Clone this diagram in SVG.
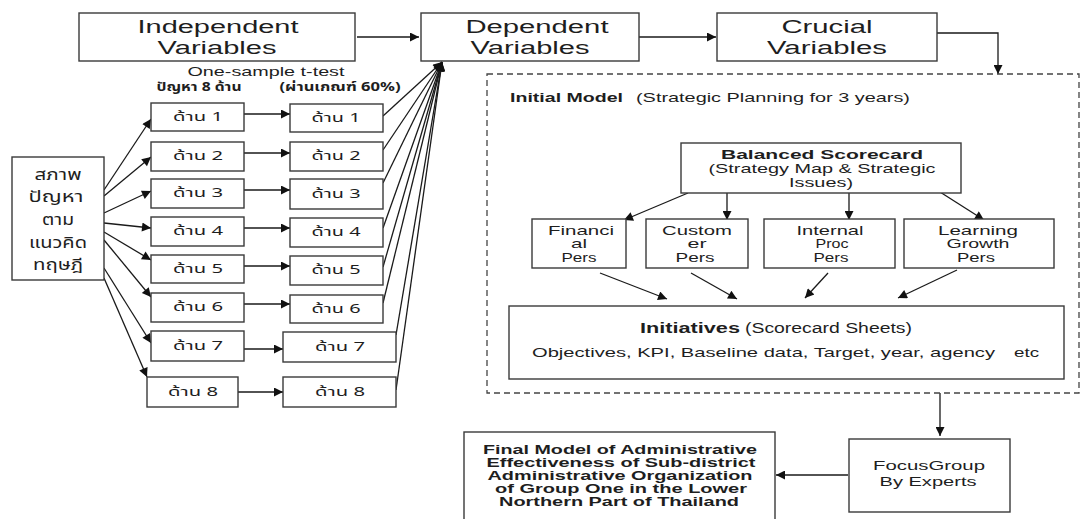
<svg xmlns="http://www.w3.org/2000/svg" width="1081" height="519" viewBox="0 0 1081 519">
<style>
.box{fill:#fff;stroke:#3a3a3a;stroke-width:1.4}
.dash{fill:none;stroke:#444;stroke-width:1.3;stroke-dasharray:6,4}
.arr{fill:none;stroke:#1a1a1a;stroke-width:1.3;marker-end:url(#ah)}
text{font-family:"Liberation Sans",Arial,sans-serif;fill:#1e1e1e;text-anchor:middle}
.hd{font-size:18px}
.sm{font-size:13px}
.b{font-weight:bold}
.th{font-family:"Noto Sans Thai","Noto Sans","DejaVu Sans",sans-serif;font-size:12px}
.thl{font-family:"Noto Sans Thai","Noto Sans","DejaVu Sans",sans-serif;font-size:15px}
.st{text-anchor:start}
</style>
<defs>
<marker id="ah" viewBox="0 0 10 10" refX="10" refY="5" markerWidth="12" markerHeight="9" markerUnits="userSpaceOnUse" orient="auto">
<path d="M0,0 L10,5 L0,10 z" fill="#111"/>
</marker>
</defs>

<g id="connectors">
<line class="arr" x1="357" y1="37" x2="419" y2="37"/>
<line class="arr" x1="639" y1="37" x2="716" y2="37"/>
<path class="arr" d="M937,33 H998 V74"/>
<line class="arr" x1="104" y1="190" x2="151" y2="119"/>
<line class="arr" x1="104" y1="196" x2="151" y2="157"/>
<line class="arr" x1="104" y1="213" x2="151" y2="191"/>
<line class="arr" x1="104" y1="223" x2="151" y2="228"/>
<line class="arr" x1="104" y1="232" x2="151" y2="260"/>
<line class="arr" x1="104" y1="240" x2="151" y2="297"/>
<line class="arr" x1="104" y1="268" x2="151" y2="343"/>
<line class="arr" x1="104" y1="278" x2="147" y2="377"/>
<line class="arr" x1="244" y1="114" x2="290" y2="114"/>
<line class="arr" x1="244" y1="153" x2="290" y2="153"/>
<line class="arr" x1="244" y1="190" x2="290" y2="190"/>
<line class="arr" x1="244" y1="228" x2="290" y2="228"/>
<line class="arr" x1="244" y1="266" x2="290" y2="266"/>
<line class="arr" x1="244" y1="304" x2="290" y2="304"/>
<line class="arr" x1="244" y1="349" x2="283" y2="349"/>
<line class="arr" x1="238" y1="392" x2="283" y2="392"/>
<line class="arr" x1="383" y1="116" x2="442" y2="62"/>
<line class="arr" x1="383" y1="150" x2="442" y2="62"/>
<line class="arr" x1="383" y1="183" x2="442" y2="62"/>
<line class="arr" x1="383" y1="228" x2="442" y2="62"/>
<line class="arr" x1="383" y1="267" x2="442" y2="62"/>
<line class="arr" x1="383" y1="303" x2="442" y2="62"/>
<line class="arr" x1="396" y1="335" x2="442" y2="62"/>
<line class="arr" x1="396" y1="390" x2="442" y2="62"/>
<line class="arr" x1="688" y1="193" x2="624" y2="220"/>
<line class="arr" x1="727" y1="193" x2="727" y2="220"/>
<line class="arr" x1="849" y1="193" x2="849" y2="220"/>
<line class="arr" x1="940" y1="192" x2="984" y2="220"/>
<line class="arr" x1="600" y1="273" x2="667" y2="299"/>
<line class="arr" x1="691" y1="273" x2="737" y2="299"/>
<line class="arr" x1="828" y1="273" x2="805" y2="298"/>
<line class="arr" x1="957" y1="270" x2="898" y2="298"/>
<line class="arr" x1="940" y1="393" x2="940" y2="436"/>
<line class="arr" x1="848" y1="475" x2="776" y2="475"/>
</g>

<g id="independent">
<rect class="box" x="79" y="13" width="276" height="48"/>
<text class="hd" x="218" y="33" textLength="161" lengthAdjust="spacingAndGlyphs">Independent</text>
<text class="hd" x="217" y="54" textLength="119" lengthAdjust="spacingAndGlyphs">Variables</text>
</g>
<g id="dependent">
<rect class="box" x="421" y="13" width="218" height="48"/>
<text class="hd" x="537" y="33" textLength="143" lengthAdjust="spacingAndGlyphs">Dependent</text>
<text class="hd" x="530" y="54" textLength="119" lengthAdjust="spacingAndGlyphs">Variables</text>
</g>
<g id="crucial">
<rect class="box" x="717" y="13" width="220" height="48"/>
<text class="hd" x="827" y="33" textLength="91" lengthAdjust="spacingAndGlyphs">Crucial</text>
<text class="hd" x="827" y="54" textLength="120" lengthAdjust="spacingAndGlyphs">Variables</text>
</g>

<g id="labels-ttest">
<text class="sm" x="266" y="76" textLength="157" lengthAdjust="spacingAndGlyphs">One-sample t-test</text>
<text class="th b" x="199" y="91" textLength="85" lengthAdjust="spacingAndGlyphs">ปัญหา 8 ด้าน</text>
<text class="th b" x="340" y="91" textLength="121" lengthAdjust="spacingAndGlyphs">(ผ่านเกณฑ์ 60%)</text>
</g>

<g id="condition">
<rect class="box" x="12" y="157" width="92" height="123"/>
<text class="thl" x="58" y="180" textLength="47" lengthAdjust="spacingAndGlyphs">สภาพ</text>
<text class="thl" x="56" y="202" textLength="55" lengthAdjust="spacingAndGlyphs">ปัญหา</text>
<text class="thl" x="58" y="225" textLength="32" lengthAdjust="spacingAndGlyphs">ตาม</text>
<text class="thl" x="58" y="248" textLength="58" lengthAdjust="spacingAndGlyphs">แนวคิด</text>
<text class="thl" x="58" y="270" textLength="50" lengthAdjust="spacingAndGlyphs">ทฤษฎี</text>
</g>

<g id="c1-1"><rect class="box" x="151" y="103" width="93" height="28"/><text class="th" x="198" y="121" textLength="50" lengthAdjust="spacingAndGlyphs">ด้าน 1</text></g>
<g id="c1-2"><rect class="box" x="151" y="142" width="93" height="29"/><text class="th" x="198" y="160" textLength="50" lengthAdjust="spacingAndGlyphs">ด้าน 2</text></g>
<g id="c1-3"><rect class="box" x="151" y="179" width="93" height="29"/><text class="th" x="198" y="197" textLength="50" lengthAdjust="spacingAndGlyphs">ด้าน 3</text></g>
<g id="c1-4"><rect class="box" x="151" y="217" width="93" height="29"/><text class="th" x="198" y="235" textLength="50" lengthAdjust="spacingAndGlyphs">ด้าน 4</text></g>
<g id="c1-5"><rect class="box" x="151" y="255" width="93" height="28"/><text class="th" x="198" y="273" textLength="50" lengthAdjust="spacingAndGlyphs">ด้าน 5</text></g>
<g id="c1-6"><rect class="box" x="151" y="293" width="93" height="29"/><text class="th" x="198" y="311" textLength="50" lengthAdjust="spacingAndGlyphs">ด้าน 6</text></g>
<g id="c1-7"><rect class="box" x="151" y="331" width="93" height="30"/><text class="th" x="198" y="350" textLength="50" lengthAdjust="spacingAndGlyphs">ด้าน 7</text></g>
<g id="c1-8"><rect class="box" x="147" y="377" width="91" height="30"/><text class="th" x="193" y="396" textLength="50" lengthAdjust="spacingAndGlyphs">ด้าน 8</text></g>

<g id="c2-1"><rect class="box" x="290" y="104" width="93" height="28"/><text class="th" x="336" y="122" textLength="49" lengthAdjust="spacingAndGlyphs">ด้าน 1</text></g>
<g id="c2-2"><rect class="box" x="290" y="142" width="93" height="29"/><text class="th" x="336" y="160" textLength="49" lengthAdjust="spacingAndGlyphs">ด้าน 2</text></g>
<g id="c2-3"><rect class="box" x="290" y="179" width="93" height="30"/><text class="th" x="336" y="198" textLength="49" lengthAdjust="spacingAndGlyphs">ด้าน 3</text></g>
<g id="c2-4"><rect class="box" x="290" y="218" width="93" height="29"/><text class="th" x="336" y="236" textLength="49" lengthAdjust="spacingAndGlyphs">ด้าน 4</text></g>
<g id="c2-5"><rect class="box" x="290" y="256" width="93" height="29"/><text class="th" x="336" y="274" textLength="49" lengthAdjust="spacingAndGlyphs">ด้าน 5</text></g>
<g id="c2-6"><rect class="box" x="290" y="295" width="93" height="28"/><text class="th" x="336" y="313" textLength="49" lengthAdjust="spacingAndGlyphs">ด้าน 6</text></g>
<g id="c2-7"><rect class="box" x="283" y="332" width="113" height="30"/><text class="th" x="340" y="351" textLength="50" lengthAdjust="spacingAndGlyphs">ด้าน 7</text></g>
<g id="c2-8"><rect class="box" x="283" y="377" width="113" height="30"/><text class="th" x="340" y="396" textLength="50" lengthAdjust="spacingAndGlyphs">ด้าน 8</text></g>

<g id="initial-model">
<rect class="dash" x="487" y="74" width="592" height="319"/>
<text class="sm b st" x="510" y="102" textLength="113" lengthAdjust="spacingAndGlyphs">Initial Model</text>
<text class="sm st" x="636" y="102" textLength="274" lengthAdjust="spacingAndGlyphs">(Strategic Planning for 3 years)</text>
</g>

<g id="bsc">
<rect class="box" x="681" y="143" width="280" height="50"/>
<text class="sm b" x="822" y="159" textLength="202" lengthAdjust="spacingAndGlyphs">Balanced Scorecard</text>
<text class="sm" x="822" y="173" textLength="227" lengthAdjust="spacingAndGlyphs">(Strategy Map &amp; Strategic</text>
<text class="sm" x="821" y="187" textLength="64" lengthAdjust="spacingAndGlyphs">Issues)</text>
</g>

<g id="financial">
<rect class="box" x="532" y="219" width="94" height="49"/>
<text class="sm" x="581" y="235" textLength="66" lengthAdjust="spacingAndGlyphs">Financi</text>
<text class="sm" x="579" y="248" textLength="16" lengthAdjust="spacingAndGlyphs">al</text>
<text class="sm" x="579" y="262" textLength="35" lengthAdjust="spacingAndGlyphs">Pers</text>
</g>
<g id="customer">
<rect class="box" x="646" y="219" width="102" height="49"/>
<text class="sm" x="697" y="235" textLength="70" lengthAdjust="spacingAndGlyphs">Custom</text>
<text class="sm" x="697" y="248" textLength="19" lengthAdjust="spacingAndGlyphs">er</text>
<text class="sm" x="695" y="262" textLength="39" lengthAdjust="spacingAndGlyphs">Pers</text>
</g>
<g id="internal">
<rect class="box" x="764" y="219" width="131" height="49"/>
<text class="sm" x="830" y="235" textLength="67" lengthAdjust="spacingAndGlyphs">Internal</text>
<text class="sm" x="832" y="248" textLength="33" lengthAdjust="spacingAndGlyphs">Proc</text>
<text class="sm" x="831" y="262" textLength="35" lengthAdjust="spacingAndGlyphs">Pers</text>
</g>
<g id="learning">
<rect class="box" x="904" y="219" width="150" height="49"/>
<text class="sm" x="978" y="235" textLength="80" lengthAdjust="spacingAndGlyphs">Learning</text>
<text class="sm" x="978" y="248" textLength="63" lengthAdjust="spacingAndGlyphs">Growth</text>
<text class="sm" x="976" y="262" textLength="38" lengthAdjust="spacingAndGlyphs">Pers</text>
</g>

<g id="initiatives">
<rect class="box" x="509" y="306" width="555" height="73"/>
<text class="b st" style="font-size:14px" x="640" y="333" textLength="100" lengthAdjust="spacingAndGlyphs">Initiatives</text>
<text class="st" style="font-size:14px" x="745" y="333" textLength="167" lengthAdjust="spacingAndGlyphs">(Scorecard Sheets)</text>
<text class="st" style="font-size:13px" x="532" y="357" textLength="463" lengthAdjust="spacingAndGlyphs">Objectives, KPI, Baseline data, Target, year, agency</text>
<text class="st" style="font-size:13px" x="1014" y="357" textLength="25" lengthAdjust="spacingAndGlyphs">etc</text>
</g>

<g id="focus-group">
<rect class="box" x="849" y="439" width="161" height="73"/>
<text class="sm" x="929" y="470" textLength="112" lengthAdjust="spacingAndGlyphs">FocusGroup</text>
<text class="sm" x="928" y="486" textLength="97" lengthAdjust="spacingAndGlyphs">By Experts</text>
</g>

<g id="final-model">
<rect class="box" x="464" y="432" width="311" height="92"/>
<text class="sm b" x="620" y="454" textLength="274" lengthAdjust="spacingAndGlyphs">Final Model of Administrative</text>
<text class="sm b" x="621" y="467" textLength="269" lengthAdjust="spacingAndGlyphs">Effectiveness of Sub-district</text>
<text class="sm b" x="620" y="480" textLength="265" lengthAdjust="spacingAndGlyphs">Administrative Organization</text>
<text class="sm b" x="621" y="493" textLength="252" lengthAdjust="spacingAndGlyphs">of Group One in the Lower</text>
<text class="sm b" x="619" y="506" textLength="240" lengthAdjust="spacingAndGlyphs">Northern Part of Thailand</text>
</g>
</svg>
